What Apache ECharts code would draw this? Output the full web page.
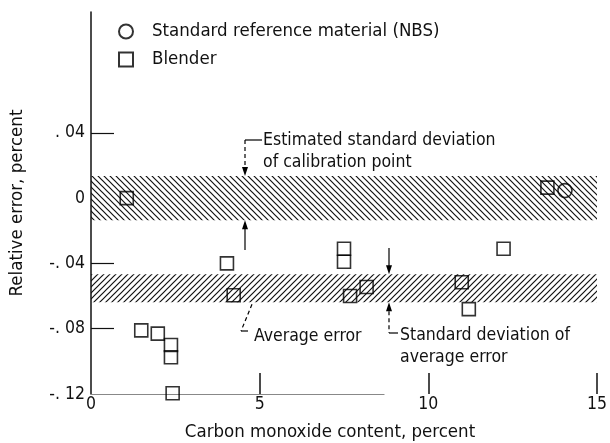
<!DOCTYPE html>
<html lang="en">
<head>
<meta charset="UTF-8">
<script src="https://cdn.jsdelivr.net/npm/echarts@6.0.0/dist/echarts.min.js"></script>
<style>
  html, body { margin: 0; padding: 0; background: #fff; }
  #main { width: 610px; height: 443px; }
</style>
</head>
<body>
<div id="main"></div>
<script>
// ---- data ----
var blenderX = [1.06, 1.49, 1.98, 2.37, 2.37, 2.42, 4.03, 4.23, 7.50, 7.50, 7.68, 8.17, 10.99, 11.20, 12.23, 13.53];
var blenderY = [0.000, -0.081, -0.083, -0.090, -0.0975, -0.1195, -0.040, -0.0595, -0.031, -0.039, -0.060, -0.0545, -0.0515, -0.068, -0.031, 0.0064];
var nbsX = [14.05];
var nbsY = [0.0046];

// bands: [upper, mean, lower]
var calBand = [0.0135, 0, -0.0135];
var avgBand = [-0.0467, -0.0547, -0.0638];

var xLabels = [0, 5, 10, 15];
var xTicks = [5, 10, 15];
var yLabelValues = [-0.12, -0.08, -0.04, 0, 0.04];
var yLabelText = ['-. 12', '-. 08', '-. 04', '0', '. 04'];
var yTicks = [-0.08, -0.04, 0.04];

var FONT = "'DejaVu Sans Condensed', 'Liberation Sans Narrow', 'DejaVu Sans', sans-serif";

// hatch pattern for the bands
function makeHatch(forward) {
    var c = document.createElement('canvas');
    c.width = 6; c.height = 6;
    var g = c.getContext('2d');
    g.strokeStyle = '#111';
    g.lineWidth = 1.2;
    g.beginPath();
    if (forward) {
        g.moveTo(0, 6); g.lineTo(6, 0);
        g.moveTo(-1, 1); g.lineTo(1, -1);
        g.moveTo(5, 7); g.lineTo(7, 5);
    } else {
        g.moveTo(0, 0); g.lineTo(6, 6);
        g.moveTo(-1, 5); g.lineTo(1, 7);
        g.moveTo(5, -1); g.lineTo(7, 1);
    }
    g.stroke();
    return c;
}

function zip(xs, ys) {
    var out = [];
    for (var i = 0; i < xs.length; i++) out.push([xs[i], ys[i]]);
    return out;
}

function hLine(y, x1, x2, color) {
    return [{coord: [x1, y], lineStyle: {color: color || '#000'}}, {coord: [x2, y]}];
}

var chart = echarts.init(document.getElementById('main'));
var bandEnd = 15.15;

chart.setOption({
    animation: false,
    textStyle: {fontFamily: FONT},
    grid: {left: 91, right: 13, top: 12, bottom: 49, outerBoundsMode: 'none', containLabel: false},
    legend: {
        left: 113, top: 17, orient: 'vertical', itemGap: 9,
        itemWidth: 14, itemHeight: 14,
        data: ['Standard reference material (NBS)', 'Blender'],
        textStyle: {fontSize: 18.5, color: '#111', fontFamily: FONT, padding: [0, 0, 0, 14]}
    },
    xAxis: {
        type: 'value', min: 0, max: 15, interval: 5,
        name: 'Carbon monoxide content, percent',
        nameLocation: 'middle', nameGap: 29,
        nameTextStyle: {fontSize: 18.5, color: '#111', padding: [0, 28, 0, 0]},
        axisLine: {show: false, onZero: false},
        axisTick: {show: true, inside: true, length: 21, customValues: xTicks, lineStyle: {color: '#111', width: 1.5}},
        axisLabel: {customValues: xLabels, fontSize: 17.5, color: '#111', margin: 1},
        splitLine: {show: false}
    },
    yAxis: {
        type: 'value', min: -0.12, max: 0.114,
        name: 'Relative error, percent',
        nameLocation: 'middle', nameGap: 64, nameRotate: 90,
        nameTextStyle: {fontSize: 18.5, color: '#111'},
        axisLine: {show: true, onZero: false, lineStyle: {color: '#111', width: 1.5}},
        axisTick: {show: true, inside: true, length: 23, customValues: yTicks, lineStyle: {color: '#111', width: 1.2}},
        axisLabel: {
            customValues: yLabelValues, fontSize: 17.5, color: '#111', margin: 6,
            formatter: function (v) {
                for (var i = 0; i < yLabelValues.length; i++) {
                    if (Math.abs(v - yLabelValues[i]) < 1e-9) return yLabelText[i];
                }
                return '';
            }
        },
        splitLine: {show: false}
    },
    series: [
        {
            name: 'bands', type: 'line', data: [], silent: true, clip: false,
            markArea: {
                silent: true,
                data: [
                    [{xAxis: 0, yAxis: calBand[0], itemStyle: {color: {image: makeHatch(false), repeat: 'repeat'}}},
                     {xAxis: bandEnd, yAxis: calBand[2]}],
                    [{xAxis: 0, yAxis: avgBand[0], itemStyle: {color: {image: makeHatch(true), repeat: 'repeat'}}},
                     {xAxis: bandEnd, yAxis: avgBand[2]}]
                ]
            },
            markLine: {
                silent: true, symbol: 'none', label: {show: false},
                lineStyle: {type: 'solid', width: 1.2, color: '#000'},
                data: [
                    hLine(calBand[0], 0, bandEnd), hLine(calBand[1], 0, bandEnd), hLine(calBand[2], 0, bandEnd),
                    hLine(avgBand[0], 0, bandEnd), hLine(avgBand[1], 0, bandEnd, '#555'), hLine(avgBand[2], 0, bandEnd, '#555'),
                    hLine(-0.12, 0, 8.7, '#888')
                ]
            }
        },
        {
            name: 'Blender', type: 'scatter', symbol: 'rect', symbolSize: 13, clip: false,
            itemStyle: {color: 'rgba(0,0,0,0)', borderColor: '#000', borderWidth: 1.6},
            data: zip(blenderX, blenderY), z: 5
        },
        {
            name: 'Standard reference material (NBS)', type: 'scatter', symbol: 'circle', symbolSize: 14, clip: false,
            itemStyle: {color: 'rgba(0,0,0,0)', borderColor: '#000', borderWidth: 1.6},
            data: zip(nbsX, nbsY), z: 5
        }
    ]
});

// ---- annotations (text and leader arrows) ----
function py(v) { return chart.convertToPixel({yAxisIndex: 0}, v); }

function arrowHead(x, y, up) {
    var d = up ? 1 : -1;
    return {type: 'polygon', shape: {points: [[x, y], [x - 3, y + 9 * d], [x + 3, y + 9 * d]]},
            style: {fill: '#000'}, silent: true};
}
function seg(pts, dashed) {
    return {type: 'polyline', shape: {points: pts},
            style: {stroke: '#000', lineWidth: 1.2, fill: null, lineDash: dashed ? [4, 3] : null}, silent: true};
}
function txt(x, y, s) {
    return {type: 'text', x: x, y: y, silent: true,
            style: {text: s, fill: '#111', font: '17.5px ' + FONT, verticalAlign: 'middle'}};
}

var calTop = py(calBand[0]), calBot = py(calBand[2]);
var avgTop = py(avgBand[0]), avgBot = py(avgBand[2]);

var g = [];
// estimated standard deviation of calibration point
g.push(seg([[262, 140], [245, 140]], false));
g.push(seg([[245, 140], [245, calTop - 8]], true));
g.push(arrowHead(245, calTop, false));
g.push(seg([[245, 250], [245, calBot + 8]], false));
g.push(arrowHead(245, calBot, true));
g.push(txt(263, 140, 'Estimated standard deviation'));
g.push(txt(263, 162, 'of calibration point'));
// average error
g.push(seg([[252, avgBot + 2], [241, 331]], true));
g.push(seg([[241, 331], [248, 331]], false));
g.push(txt(254, 336, 'Average error'));
// standard deviation of average error
g.push(seg([[389, 248], [389, avgTop - 8]], false));
g.push(arrowHead(389, avgTop, false));
g.push(arrowHead(389, avgBot, true));
g.push(seg([[389, avgBot + 9], [389, 333]], true));
g.push(seg([[389, 333], [398, 333]], false));
g.push(txt(400, 335, 'Standard deviation of'));
g.push(txt(400, 357, 'average error'));

chart.setOption({graphic: g});
</script>
</body>
</html>
